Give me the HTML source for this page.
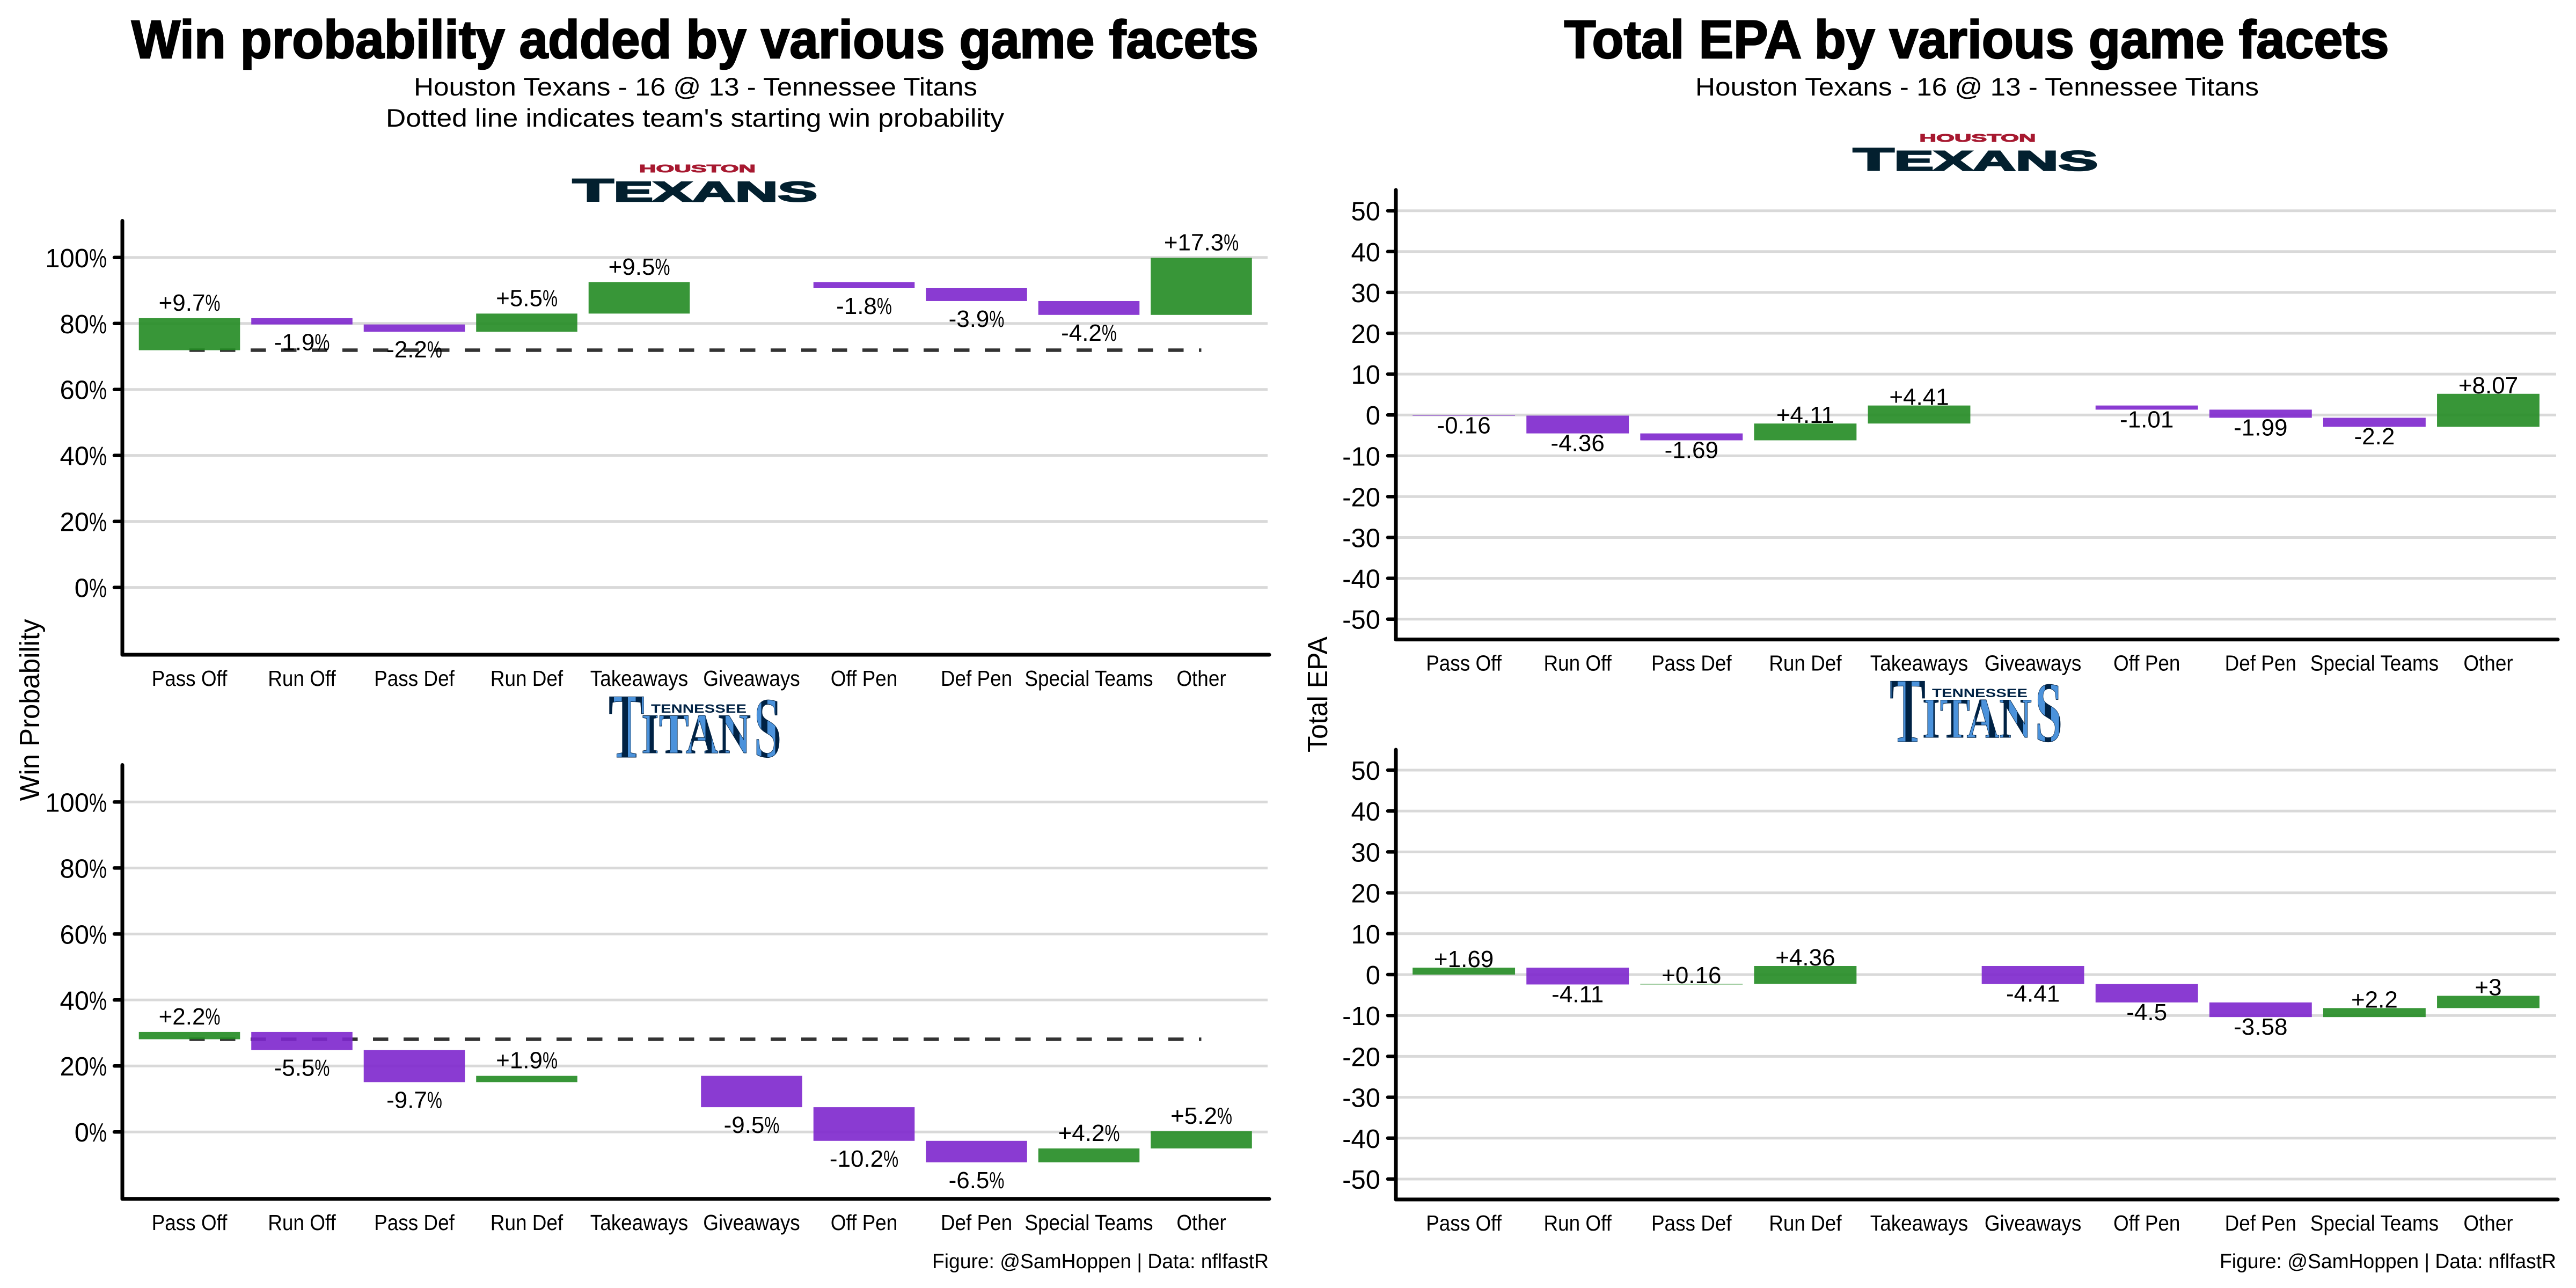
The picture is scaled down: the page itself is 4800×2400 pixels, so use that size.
<!DOCTYPE html>
<html lang="en">
<head>
<meta charset="utf-8">
<title>Win probability and EPA by game facets</title>
<style>
html,body{margin:0;padding:0;background:#fff;}
svg{display:block;}
text{font-family:"Liberation Sans",sans-serif;fill:#000;}
.title{font-weight:700;font-size:100px;text-anchor:middle;stroke:#000;stroke-width:2.5px;}
.sub{font-size:47px;text-anchor:middle;}
.cap{font-size:38px;text-anchor:end;}
.ytitle{font-size:52px;text-anchor:middle;}
.lg{font-weight:700;}
.ls{font-family:"Liberation Serif",serif;font-weight:700;}
</style>
</head>
<body>
<svg id="chart" xmlns="http://www.w3.org/2000/svg" width="4800" height="2400" viewBox="0 0 4800 2400">
<defs>
<linearGradient id="titansFill" gradientUnits="userSpaceOnUse" x1="0" y1="0" x2="26" y2="0" spreadMethod="repeat">
<stop offset="0" stop-color="#4b92db"/><stop offset="0.55" stop-color="#4b92db"/>
<stop offset="0.55" stop-color="#002244"/><stop offset="1" stop-color="#002244"/>
</linearGradient>
</defs>
<rect x="0" y="0" width="4800" height="2400" fill="#fff"/>

<text class="title" x="1295" y="108" textLength="2100" lengthAdjust="spacingAndGlyphs">Win probability added by various game facets</text>
<text class="sub" x="1296" y="178" textLength="1050" lengthAdjust="spacingAndGlyphs">Houston Texans - 16 @ 13 - Tennessee Titans</text>
<text class="sub" x="1295" y="236" textLength="1152" lengthAdjust="spacingAndGlyphs">Dotted line indicates team's starting win probability</text>
<text class="title" x="3683" y="108" textLength="1537" lengthAdjust="spacingAndGlyphs">Total EPA by various game facets</text>
<text class="sub" x="3684" y="178" textLength="1050" lengthAdjust="spacingAndGlyphs">Houston Texans - 16 @ 13 - Tennessee Titans</text>

<text class="ytitle" transform="translate(73,1323) rotate(-90)" textLength="339" lengthAdjust="spacingAndGlyphs">Win Probability</text>
<text class="ytitle" transform="translate(2473,1294) rotate(-90)" textLength="216" lengthAdjust="spacingAndGlyphs">Total EPA</text>

<text class="cap" x="2364" y="2363" textLength="627" lengthAdjust="spacingAndGlyphs">Figure: @SamHoppen | Data: nflfastR</text>
<text class="cap" x="4763" y="2363" textLength="627" lengthAdjust="spacingAndGlyphs">Figure: @SamHoppen | Data: nflfastR</text>

<g>
<text class="lg" x="1191" y="321" font-size="20" style="fill:#a71930" stroke="#a71930" stroke-width="1" textLength="217" lengthAdjust="spacingAndGlyphs">HOUSTON</text>
<text class="lg" x="1067" y="375" font-size="52" style="fill:#03202f" stroke="#03202f" stroke-width="2.5" textLength="456" lengthAdjust="spacingAndGlyphs"><tspan font-size="59">T</tspan>EXANS</text>
</g>
<g>
<text class="lg" x="3576.5" y="264" font-size="20" style="fill:#a71930" stroke="#a71930" stroke-width="1" textLength="217" lengthAdjust="spacingAndGlyphs">HOUSTON</text>
<text class="lg" x="3453" y="317.5" font-size="52" style="fill:#03202f" stroke="#03202f" stroke-width="2.5" textLength="456" lengthAdjust="spacingAndGlyphs"><tspan font-size="59">T</tspan>EXANS</text>
</g>
<g>
<text class="ls" x="1134" y="1411" font-size="172" style="fill:url(#titansFill)" stroke="#002244" stroke-width="1" textLength="67" lengthAdjust="spacingAndGlyphs">T</text>
<text class="lg" x="1213" y="1328" font-size="22" style="fill:#002244" textLength="178" lengthAdjust="spacingAndGlyphs">TENNESSEE</text>
<text class="ls" x="1195" y="1403" font-size="106" style="fill:url(#titansFill)" stroke="#002244" stroke-width="1" textLength="204" lengthAdjust="spacingAndGlyphs">ITAN</text>
<text class="ls" x="1405" y="1410" font-size="160" style="fill:url(#titansFill)" stroke="#002244" stroke-width="1" textLength="51" lengthAdjust="spacingAndGlyphs">S</text>
</g>
<g>
<text class="ls" x="3521" y="1382" font-size="172" style="fill:url(#titansFill)" stroke="#002244" stroke-width="1" textLength="67" lengthAdjust="spacingAndGlyphs">T</text>
<text class="lg" x="3600" y="1299" font-size="22" style="fill:#002244" textLength="178" lengthAdjust="spacingAndGlyphs">TENNESSEE</text>
<text class="ls" x="3582" y="1374" font-size="106" style="fill:url(#titansFill)" stroke="#002244" stroke-width="1" textLength="204" lengthAdjust="spacingAndGlyphs">ITAN</text>
<text class="ls" x="3792" y="1381" font-size="160" style="fill:url(#titansFill)" stroke="#002244" stroke-width="1" textLength="51" lengthAdjust="spacingAndGlyphs">S</text>
</g>
</svg>

<script>
const categories = ['Pass Off', 'Run Off', 'Pass Def', 'Run Def', 'Takeaways', 'Giveaways', 'Off Pen', 'Def Pen', 'Special Teams', 'Other'];
const wpTickValues = [0, 20, 40, 60, 80, 100];
const epaTickValues = [-50, -40, -30, -20, -10, 0, 10, 20, 30, 40, 50];
const houstonWpStart = 71.9;
const tennesseeWpStart = 28.1;
const houstonWpDeltas = [9.7, -1.9, -2.2, 5.5, 9.5, 0, -1.8, -3.9, -4.2, 17.3];
const tennesseeWpDeltas = [2.2, -5.5, -9.7, 1.9, 0, -9.5, -10.2, -6.5, 4.2, 5.2];
const houstonEpaStart = 0;
const tennesseeEpaStart = 0;
const houstonEpaDeltas = [-0.16, -4.36, -1.69, 4.11, 4.41, 0, -1.01, -1.99, -2.2, 8.07];
const tennesseeEpaDeltas = [1.69, -4.11, 0.16, 4.36, 0, -4.41, -4.5, -3.58, 2.2, 3];

const svg = document.getElementById('chart');
const NS = 'http://www.w3.org/2000/svg';

function line(parent, x1, y1, x2, y2, stroke, width, cap) {
  const el = document.createElementNS(NS, 'line');
  el.setAttribute('x1', x1);
  el.setAttribute('y1', y1);
  el.setAttribute('x2', x2);
  el.setAttribute('y2', y2);
  el.setAttribute('stroke', stroke);
  el.setAttribute('stroke-width', width);
  if (cap) el.setAttribute('stroke-linecap', cap);
  parent.appendChild(el);
  return el;
}

function label(parent, x, y, str, size, anchor, pctWidth, factor) {
  const el = document.createElementNS(NS, 'text');
  el.setAttribute('x', x);
  el.setAttribute('y', y);
  el.setAttribute('font-size', size);
  el.setAttribute('text-anchor', anchor);
  if (pctWidth && str.endsWith('%')) {
    el.appendChild(document.createTextNode(str.slice(0, -1)));
    const t = document.createElementNS(NS, 'tspan');
    t.setAttribute('textLength', pctWidth);
    t.setAttribute('lengthAdjust', 'spacingAndGlyphs');
    t.textContent = '%';
    el.appendChild(t);
  } else {
    el.textContent = str;
  }
  parent.appendChild(el);
  if (factor && factor !== 1) {
    el.setAttribute('textLength', (el.getComputedTextLength() * factor).toFixed(1));
    el.setAttribute('lengthAdjust', 'spacingAndGlyphs');
  }
  return el;
}

function drawPanel(p) {
  const g = document.createElementNS(NS, 'g');
  
  
  svg.appendChild(g);

  const xScale = i => p.firstCenter + i * p.step;
  const yScale = v => p.zero - v * p.pxPerUnit;
  const barW = p.step * 0.9;

  p.ticks.forEach(t => {
    const grid = line(g, p.axisX, yScale(t), p.right, yScale(t), '#d9d9d9', 5);
    
    
  });

  if (p.showStart) {
    const dash = line(g, xScale(0), yScale(p.start), xScale(categories.length - 1), yScale(p.start), '#333333', 6.5);
    dash.setAttribute('stroke-dasharray', '28.5 28.5');
    
    
  }

  let running = p.start;
  const labels = [];
  p.deltas.forEach((d, i) => {
    if (d === 0) return;
    const from = running;
    const to = running + d;
    running = to;
    const top = yScale(Math.max(from, to));
    const bottom = yScale(Math.min(from, to));
    const bar = document.createElementNS(NS, 'rect');
    bar.setAttribute('x', xScale(i) - barW / 2);
    bar.setAttribute('y', top);
    bar.setAttribute('width', barW);
    bar.setAttribute('height', bottom - top);
    bar.setAttribute('fill', d > 0 ? '#228B22' : '#7D26CD');
    bar.setAttribute('fill-opacity', '0.9');
    
    
    g.appendChild(bar);
    labels.push({ i, d, top, bottom });
  });

  labels.forEach(o => {
    const str = (o.d > 0 ? '+' : '') + o.d + p.suffix;
    const y = o.d > 0 ? o.top - p.labelAbove : o.bottom + p.labelBelow;
    const el = label(g, xScale(o.i), y, str, 44, 'middle', 28, 1);
    
    
  });

  const yAxis = line(g, p.axisX, p.axisTop, p.axisX, p.axisBottom, '#000', 7, 'round');
  
  
  const xAxis = line(g, p.axisX, p.axisBottom, p.right + 3, p.axisBottom, '#000', 7, 'round');
  
  

  p.ticks.forEach(t => {
    const tick = line(g, p.axisX - 15, yScale(t), p.axisX, yScale(t), '#000', 6.5, 'round');
    
    
    const tl = label(g, p.axisX - 29, yScale(t) + 18, t + p.suffix, 49, 'end', 33, 1);
    
    
  });

  categories.forEach((c, i) => {
    const xl = label(g, xScale(i), p.axisBottom + 58, c, 41, 'middle', null, 0.9);
    
    
  });
}

drawPanel({ name: 'houston-win-probability-panel', deltas: houstonWpDeltas, start: houstonWpStart, showStart: true, ticks: wpTickValues, suffix: '%', firstCenter: 353, step: 209.5, axisX: 228, right: 2362, zero: 1094.6, pxPerUnit: 6.148, axisTop: 411.5, axisBottom: 1220, labelAbove: 14, labelBelow: 48 });
drawPanel({ name: 'tennessee-win-probability-panel', deltas: tennesseeWpDeltas, start: tennesseeWpStart, showStart: true, ticks: wpTickValues, suffix: '%', firstCenter: 353, step: 209.5, axisX: 228, right: 2362, zero: 2109.2, pxPerUnit: 6.148, axisTop: 1425.5, axisBottom: 2234, labelAbove: 14, labelBelow: 48 });
drawPanel({ name: 'houston-epa-panel', deltas: houstonEpaDeltas, start: houstonEpaStart, showStart: false, ticks: epaTickValues, suffix: '', firstCenter: 2727.6, step: 212.1, axisX: 2601, right: 4763, zero: 773.2, pxPerUnit: 7.61, axisTop: 354, axisBottom: 1191.6, labelAbove: 1, labelBelow: 33 });
drawPanel({ name: 'tennessee-epa-panel', deltas: tennesseeEpaDeltas, start: tennesseeEpaStart, showStart: false, ticks: epaTickValues, suffix: '', firstCenter: 2727.6, step: 212.1, axisX: 2601, right: 4763, zero: 1816, pxPerUnit: 7.62, axisTop: 1397, axisBottom: 2235, labelAbove: 1, labelBelow: 33 });
</script>
</body>
</html>
